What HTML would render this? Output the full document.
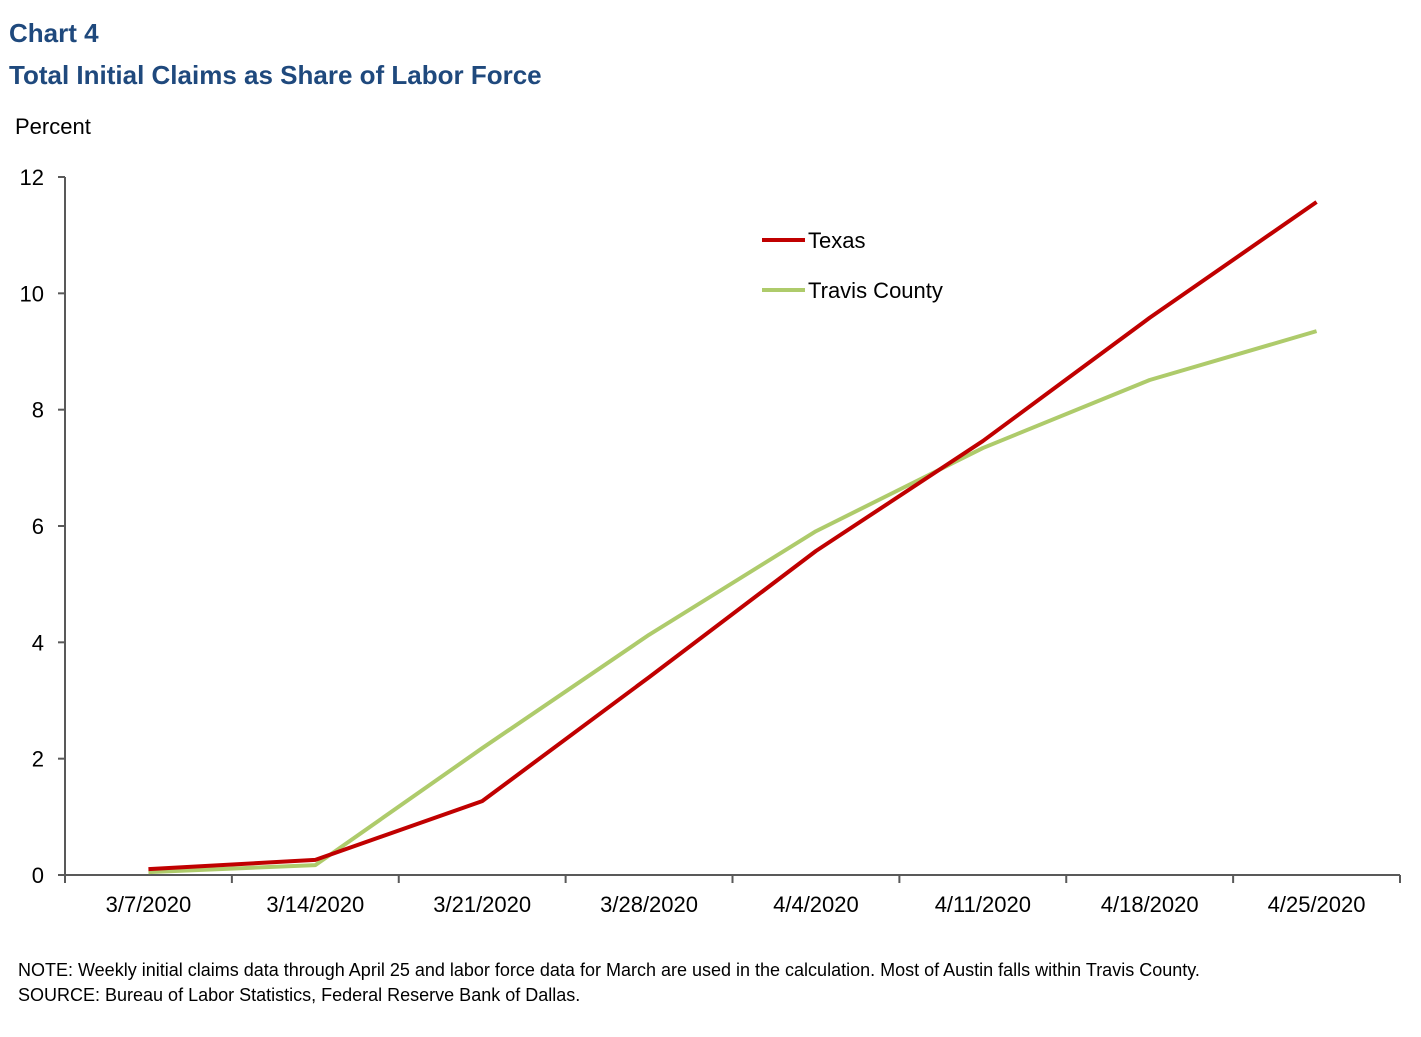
<!DOCTYPE html>
<html><head><meta charset="utf-8"><style>
body{margin:0;background:#fff;font-family:"Liberation Sans",Arial,sans-serif;}
</style></head><body>
<svg width="1421" height="1032" xmlns="http://www.w3.org/2000/svg" font-family="Liberation Sans, Arial, sans-serif">
<text x="9" y="42" font-size="26" font-weight="bold" fill="#1f497d">Chart 4</text>
<text x="9" y="84" font-size="26" font-weight="bold" fill="#1f497d">Total Initial Claims as Share of Labor Force</text>
<text x="15" y="134" font-size="22" fill="#000">Percent</text>
<g id="axes"></g>
<g id="series"></g>
<g>
<line x1="762" y1="240" x2="805" y2="240" stroke="#c00000" stroke-width="4"/>
<text x="808" y="248" font-size="22">Texas</text>
<line x1="762" y1="290" x2="805" y2="290" stroke="#aecb6b" stroke-width="4"/>
<text x="808" y="298" font-size="22">Travis County</text>
</g>
<text x="18" y="976" font-size="18">NOTE: Weekly initial claims data through April 25 and labor force data for March are used in the calculation. Most of Austin falls within Travis County.</text>
<text x="18" y="1001" font-size="18">SOURCE: Bureau of Labor Statistics, Federal Reserve Bank of Dallas.</text>
</svg>
<script>
const categories=["3/7/2020","3/14/2020","3/21/2020","3/28/2020","4/4/2020","4/11/2020","4/18/2020","4/25/2020"];
const texas=[0.1,0.26,1.27,3.4,5.57,7.46,9.58,11.57];
const travis=[0.05,0.17,2.18,4.13,5.91,7.34,8.51,9.35];
const yTicks=[0,2,4,6,8,10,12];
const NS="http://www.w3.org/2000/svg";
const X0=65,X1=1400,Y0=875,Y1=177,YMAX=12;
const step=(X1-X0)/categories.length;
const xs=i=>X0+step*(i+0.5);
const ys=v=>Y0-(v/YMAX)*(Y0-Y1);
function mk(t,a,p){const e=document.createElementNS(NS,t);for(const k in a)e.setAttribute(k,a[k]);p.appendChild(e);return e;}
const ax=document.getElementById('axes');
let l=mk('line',{x1:X0,y1:Y1,x2:X0,y2:Y0,stroke:'#595959','stroke-width':2},ax);


l=mk('line',{x1:X0,y1:Y0,x2:X1,y2:Y0,stroke:'#595959','stroke-width':2},ax);


yTicks.forEach(v=>{
 const t=mk('line',{x1:X0-7,y1:ys(v),x2:X0,y2:ys(v),stroke:'#595959','stroke-width':2},ax);
 
 
 const tx=mk('text',{x:44,y:ys(v)+8,'font-size':22,'text-anchor':'end'},ax);tx.textContent=v;
 
 
});
for(let i=0;i<=categories.length;i++){
 const t=mk('line',{x1:X0+step*i,y1:Y0,x2:X0+step*i,y2:Y0+8,stroke:'#595959','stroke-width':2},ax);
 
 
}
categories.forEach((c,i)=>{
 const tx=mk('text',{x:xs(i),y:912,'font-size':22,'text-anchor':'middle'},ax);tx.textContent=c;
 
 
});
const sg=document.getElementById('series');
function line(arr,col,name){
 const p=mk('polyline',{points:arr.map((v,i)=>xs(i)+','+ys(v)).join(' '),fill:'none',stroke:col,'stroke-width':4,'stroke-linejoin':'round'},sg);
 
 
}
line(travis,'#aecb6b','travis-county-line');
line(texas,'#c00000','texas-line');
</script>
</body></html>
